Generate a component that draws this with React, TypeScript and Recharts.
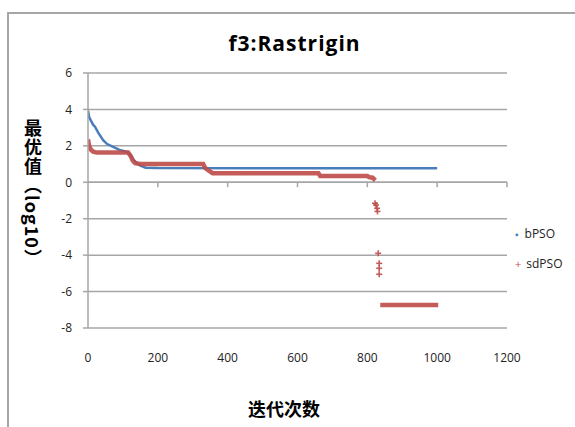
import React from 'react';
import { ComposedChart, Line, Scatter, XAxis, YAxis, CartesianGrid, ReferenceLine } from 'recharts';

// bPSO convergence (log10 of best value)
const bIter = [0, 3, 8, 15, 20, 30, 44, 55, 72, 90, 110, 120, 130, 140, 150, 165, 200, 1000];
const bVal = [3.95, 3.6, 3.4, 3.15, 3.05, 2.7, 2.3, 2.1, 1.95, 1.78, 1.68, 1.55, 1.25, 1.05, 0.92, 0.8, 0.78, 0.77];

// sdPSO convergence: main part, scattered drop, final plateau
const sdIter = [0, 3, 8, 15, 25, 115, 122, 128, 135, 150, 330, 335, 345, 357, 660, 665, 800, 805, 815, 823];
const sdVal = [2.35, 2.0, 1.8, 1.68, 1.63, 1.63, 1.45, 1.2, 1.05, 1.0, 1.0, 0.8, 0.65, 0.5, 0.5, 0.35, 0.35, 0.28, 0.25, 0.1];
const sdDropIter = [822, 825, 828, 829, 831, 834, 834, 834];
const sdDropVal = [-1.15, -1.25, -1.43, -1.6, -3.9, -4.45, -4.72, -5.05];
const sdTailIter = [837, 1003];
const sdTailVal = [-6.74, -6.74];

const xTicks = [0, 200, 400, 600, 800, 1000, 1200];
const yTicks = [-8, -6, -4, -2, 0, 2, 4, 6];

const BLUE = '#4a7ebb';
const RED = '#be4b48';
const GRID = '#a6a6a6';
const FONT = '"Open Sans", "Noto Sans", sans-serif';

const toPoints = (xs: number[], ys: number[]) => xs.map((x, i) => ({ x, y: ys[i] }));

const bData = toPoints(bIter, bVal);
const sdData = toPoints(sdIter, sdVal);
const sdDrop = toPoints(sdDropIter, sdDropVal);
const sdTail = toPoints(sdTailIter, sdTailVal);

// small "+" marker like the excel one
const Plus = (props: any) => {
  const { cx, cy } = props;
  return (
    <g stroke={RED} strokeWidth={1.6} opacity={0.9}>
      <line x1={cx - 3} y1={cy} x2={cx + 3} y2={cy} />
      <line x1={cx} y1={cy - 3} x2={cx} y2={cy + 3} />
    </g>
  );
};

export default function App() {
  return (
    <div style={{ position: 'absolute', left: 0, top: 0, width: 575, height: 427, background: '#fff', overflow: 'hidden' }}>
      {/* chart area frame */}
      <div style={{ position: 'absolute', left: 7, top: 12, width: 580, height: 430, borderTop: `2px solid ${GRID}`, borderLeft: `2px solid ${GRID}` }} />
      <div style={{ position: 'absolute', left: 0, top: 0 }}>
        <ComposedChart width={575} height={427} margin={{ top: 73, right: 68, left: 0, bottom: 0 }}>
          <CartesianGrid vertical={false} stroke={GRID} strokeWidth={1.5} />
          <XAxis
            type="number"
            dataKey="x"
            domain={[0, 1200]}
            ticks={xTicks}
            allowDataOverflow
            height={99}
            axisLine={false}
            tickLine={false}
            tickSize={0}
            tickMargin={25}
            tick={{ fontSize: 12, fill: '#222', fontFamily: FONT }}
          />
          <YAxis
            type="number"
            dataKey="y"
            domain={[-8, 6]}
            ticks={yTicks}
            width={88}
            axisLine={{ stroke: GRID, strokeWidth: 1.5 }}
            tickLine={{ stroke: GRID, strokeWidth: 1.5 }}
            tickSize={5}
            tickMargin={11}
            tick={{ fontSize: 12, fill: '#222', fontFamily: FONT }}
          />
          <ReferenceLine y={0} stroke={GRID} strokeWidth={1.5} />
          {xTicks.slice(1).map(t => (
            <ReferenceLine key={t} segment={[{ x: t, y: 0 }, { x: t, y: -0.27 }]} stroke={GRID} strokeWidth={1.5} />
          ))}
          <Line
            data={bData}
            dataKey="y"
            type="linear"
            stroke={BLUE}
            strokeWidth={2.5}
            dot={false}
            isAnimationActive={false}
            legendType="none"
          />
          <Line
            data={sdData}
            dataKey="y"
            type="linear"
            stroke={RED}
            strokeOpacity={0.9}
            strokeWidth={4.5}
            dot={false}
            isAnimationActive={false}
            legendType="none"
          />
          <Line
            data={sdTail}
            dataKey="y"
            type="linear"
            stroke={RED}
            strokeOpacity={0.9}
            strokeWidth={4.5}
            dot={false}
            isAnimationActive={false}
            legendType="none"
          />
          <Scatter data={sdDrop} dataKey="y" fill={RED} shape={<Plus />} legendType="none" isAnimationActive={false} />
        </ComposedChart>
      </div>
      <div style={{ position: 'absolute', left: 0, width: 575, top: 29, textAlign: 'center', paddingLeft: 14, boxSizing: 'border-box', fontFamily: FONT, fontWeight: 'bold', fontSize: 21, letterSpacing: 1, color: '#000' }}>
        f3:Rastrigin
      </div>
      <div style={{ position: 'absolute', left: 22, top: 119, writingMode: 'vertical-rl', fontFamily: '"Noto Sans CJK SC", sans-serif', fontWeight: 'bold', fontSize: 18, lineHeight: '22px', letterSpacing: 1, color: '#000' }}>
        最优值︵log10︶
      </div>
      <div style={{ position: 'absolute', left: 248, top: 396, fontFamily: '"Noto Sans CJK SC", sans-serif', fontWeight: 'bold', fontSize: 18, lineHeight: '24px', color: '#000' }}>
        迭代次数
      </div>
      {/* legend */}
      <div style={{ position: 'absolute', left: 515, top: 219, fontFamily: FONT, fontSize: 12, color: '#222', lineHeight: '30px' }}>
        <div><span style={{ color: BLUE, marginRight: 6, fontSize: 10 }}>▪</span>bPSO</div>
        <div><span style={{ color: RED, marginRight: 5, fontSize: 11 }}>+</span>sdPSO</div>
      </div>
    </div>
  );
}
